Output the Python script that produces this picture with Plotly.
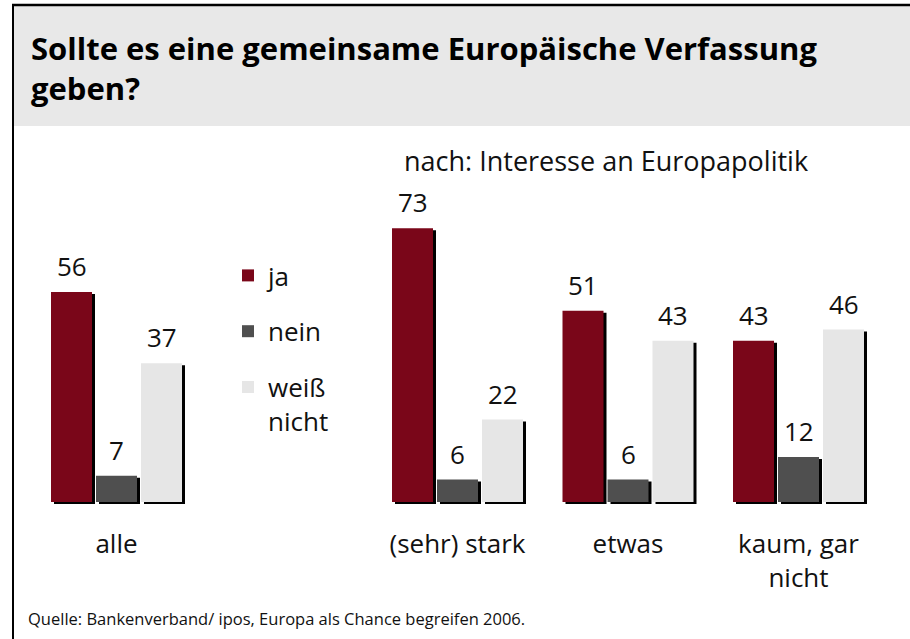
import plotly.graph_objects as go

# ---- data ----
categories = ["alle", "(sehr) stark", "etwas", "kaum, gar<br>nicht"]
group_pos = [0, 2, 3, 4]
series_names = ["ja", "nein", "weiß<br>nicht"]
ja_values = [56, 73, 51, 43]
nein_values = [7, 6, 6, 12]
weiss_values = [37, 22, 43, 46]
series_values = [ja_values, nein_values, weiss_values]
series_colors = ["#7a0619", "#4f4f4f", "#e6e6e6"]

title_text = "Sollte es eine gemeinsame Europäische Verfassung<br>geben?"
subtitle_text = "nach: Interesse an Europapolitik"
source_text = "Quelle: Bankenverband/ ipos, Europa als Chance begreifen 2006."

# ---- geometry ----
W, H = 910, 639
PX_X = 170.5          # px per x unit
X0 = 116.5            # px of x=0
PX_Y = 3.75           # px per percentage point
BASE_PX = 502         # px of y=0
PLOT_BOTTOM = 506
slot = 45 / PX_X
bar_w = 41 / PX_X
sh_dx = 3 / PX_X
sh_dy = 2 / PX_Y

FONT = "Open Sans"

fig = go.Figure()

for i, (name, vals, col) in enumerate(zip(series_names, series_values, series_colors)):
    xs = [g + (i - 1) * slot for g in group_pos]
    # shadow
    fig.add_trace(go.Bar(
        x=[x + sh_dx for x in xs], y=vals, base=-sh_dy, width=bar_w,
        marker=dict(color="black", line=dict(width=0)),
        showlegend=False, hoverinfo="skip",
    ))
    fig.add_trace(go.Bar(
        x=xs, y=vals, width=bar_w, name=name, legendgroup=name,
        marker=dict(color=col, line=dict(width=0)),
    ))
    for x, v in zip(xs, vals):
        fig.add_annotation(x=x, y=v, text=str(v), showarrow=False,
                           xref="x", yref="y", yanchor="bottom", yshift=6,
                           font=dict(family=FONT, size=26, color="#111"))

# header and border
fig.add_shape(type="rect", xref="paper", yref="paper",
              x0=12 / W, x1=1, y0=1 - 126 / PLOT_BOTTOM, y1=1 - 5 / PLOT_BOTTOM,
              fillcolor="#e8e8e8", line=dict(width=0), layer="below")
fig.add_shape(type="line", xref="paper", yref="paper",
              x0=12 / W, x1=1, y0=1 - 5 / PLOT_BOTTOM, y1=1 - 5 / PLOT_BOTTOM,
              line=dict(color="black", width=2.5))
fig.add_shape(type="line", xref="paper", yref="paper",
              x0=13 / W, x1=13 / W, y0=1 - 4 / PLOT_BOTTOM, y1=1 - H / PLOT_BOTTOM,
              line=dict(color="black", width=2))

fig.add_annotation(text=title_text, xref="paper", yref="paper",
                   x=29 / W, y=1 - 25 / PLOT_BOTTOM, xanchor="left", yanchor="top",
                   align="left", showarrow=False,
                   font=dict(family=FONT, size=31, color="black", weight="bold"))
fig.add_annotation(text=subtitle_text, xref="paper", yref="paper",
                   x=606 / W, y=1 - 161 / PLOT_BOTTOM, xanchor="center", yanchor="middle",
                   showarrow=False, font=dict(family=FONT, size=27, color="#111"))
fig.add_annotation(text=source_text, xref="paper", yref="paper",
                   x=26 / W, y=1 - 618 / PLOT_BOTTOM, xanchor="left", yanchor="middle",
                   showarrow=False, font=dict(family=FONT, size=16.5, color="#111"))

fig.update_layout(
    width=W, height=H,
    margin=dict(l=0, r=0, t=0, b=H - PLOT_BOTTOM, pad=0, autoexpand=False),
    paper_bgcolor="white", plot_bgcolor="rgba(0,0,0,0)",
    barmode="overlay",
    showlegend=True,
    legend=dict(x=228 / W, y=1 - 252 / PLOT_BOTTOM, xref="paper", yref="paper",
                xanchor="left", yanchor="top", valign="top",
                font=dict(family=FONT, size=26, color="#111"),
                tracegroupgap=19, itemwidth=30, bgcolor="rgba(0,0,0,0)"),
    xaxis=dict(range=[-X0 / PX_X, (W - X0) / PX_X], tickvals=group_pos, ticktext=categories,
               showgrid=False, zeroline=False, showline=False, ticks="",
               tickfont=dict(family=FONT, size=26, color="#111"), ticklabelstandoff=20),
    yaxis=dict(range=[-(PLOT_BOTTOM - BASE_PX) / PX_Y, BASE_PX / PX_Y],
               visible=False, showgrid=False, zeroline=False),
)

fig.write_html("out.html", config={"displayModeBar": False},
               post_script="document.body.style.margin='0';")
